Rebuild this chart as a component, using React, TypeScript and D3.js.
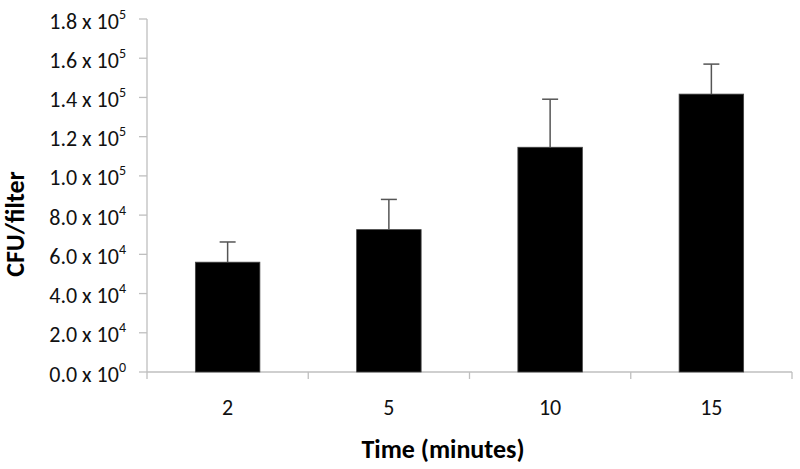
import * as d3 from "d3";

// chart data
const categories = ["2", "5", "10", "15"];
const means = [56000, 72600, 114600, 141700];
const errors = [10300, 15400, 24500, 15300];
const yTicks = [0, 20000, 40000, 60000, 80000, 100000, 120000, 140000, 160000, 180000];

const WIDTH = 800;
const HEIGHT = 469;
const FONT = "Carlito, Calibri, 'Liberation Sans', sans-serif";

// "1.8 x 10^5" style labels
const tickParts = (v: number) => {
  if (v === 0) return { mant: "0.0", exp: "0" };
  const e = Math.floor(Math.log10(v));
  return { mant: (v / Math.pow(10, e)).toFixed(1), exp: String(e) };
};

export default function App() {
  const x = d3
    .scaleBand<string>()
    .domain(categories)
    .range([147, 792])
    .paddingInner(0.6)
    .paddingOuter(0.3);
  const y = d3.scaleLinear().domain([0, 180000]).range([372, 19]);

  const axisColor = "#bfbfbf";
  const step = x.step();
  const x0 = x.range()[0];
  // category boundary ticks on x axis
  const boundaries = d3.range(categories.length + 1).map((i) => x0 + i * step);

  return (
    <div style={{ position: "fixed", left: 0, top: 0 }}>
      <svg width={WIDTH} height={HEIGHT} style={{ display: "block", background: "#fff" }}>
        {/* y axis */}
        <line x1={147} x2={147} y1={y(180000)} y2={y(0)} stroke={axisColor} strokeWidth={1.3} />
        {yTicks.map((t) => {
          const p = tickParts(t);
          return (
            <g key={t} transform={`translate(0,${y(t)})`}>
              <line x1={139} x2={147} stroke={axisColor} strokeWidth={1.3} />
              <text x={126} y={9.5} textAnchor="end" fontFamily={FONT} fontSize={22} fill="#111">
                {p.mant} x 10
                <tspan dy={-10} fontSize={14}>{p.exp}</tspan>
              </text>
            </g>
          );
        })}

        {/* x axis */}
        <line x1={147} x2={792} y1={y(0)} y2={y(0)} stroke={axisColor} strokeWidth={1.3} />
        {boundaries.map((b, i) => (
          <line key={i} x1={b} x2={b} y1={y(0)} y2={y(0) + 7} stroke={axisColor} strokeWidth={1.3} />
        ))}
        {categories.map((c) => (
          <text
            key={c}
            x={(x(c) ?? 0) + x.bandwidth() / 2}
            y={415}
            textAnchor="middle"
            fontFamily={FONT}
            fontSize={22}
            fill="#111"
          >
            {c}
          </text>
        ))}

        {/* bars */}
        {categories.map((c, i) => (
          <rect
            key={c}
            x={x(c)}
            y={y(means[i])}
            width={x.bandwidth()}
            height={y(0) - y(means[i])}
            fill="#000"
            stroke="#444"
            strokeWidth={0.8}
          />
        ))}

        {/* error bars (upper only) */}
        {categories.map((c, i) => {
          const cx = (x(c) ?? 0) + x.bandwidth() / 2;
          const top = y(means[i] + errors[i]);
          return (
            <g key={c} stroke="#555" strokeWidth={1.5}>
              <line x1={cx} x2={cx} y1={y(means[i])} y2={top} />
              <line x1={cx - 8} x2={cx + 8} y1={top} y2={top} />
            </g>
          );
        })}

        {/* axis titles */}
        <text
          transform={`translate(24,224) rotate(-90)`}
          textAnchor="middle"
          fontFamily={FONT}
          fontSize={26}
          fontWeight="bold"
          fill="#000"
        >
          CFU/filter
        </text>
        <text x={443} y={458} textAnchor="middle" fontFamily={FONT} fontSize={26} fontWeight="bold" fill="#000">
          Time (minutes)
        </text>
      </svg>
    </div>
  );
}
